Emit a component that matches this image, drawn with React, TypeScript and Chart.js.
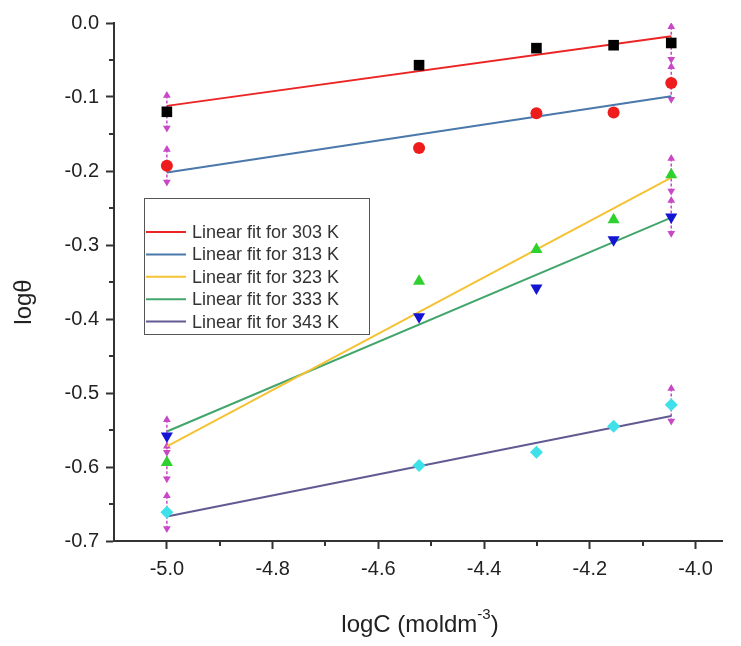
import React, { useEffect, useRef } from "react";
import { Chart, registerables } from "chart.js";

Chart.register(...registerables);

// ---- data ----
const logC = [-5.0, -4.523, -4.301, -4.155, -4.046];
const temps = ["303 K", "313 K", "323 K", "333 K", "343 K"];
const theta303 = [-0.120, -0.057, -0.034, -0.030, -0.027];
const theta313 = [-0.193, -0.169, -0.122, -0.121, -0.081];
const theta323 = [-0.594, -0.349, -0.306, -0.266, -0.205];
const theta333 = [-0.558, -0.397, -0.358, -0.293, -0.262];
const theta343 = [-0.661, -0.598, -0.580, -0.545, -0.516];
const fitX = [-5.0, -4.046];
const fitStart = [-0.112, -0.202, -0.572, -0.552, -0.667];
const fitEnd = [-0.018, -0.099, -0.209, -0.263, -0.531];
const xTicks = [-5.0, -4.8, -4.6, -4.4, -4.2, -4.0];
const yTicks = [0.0, -0.1, -0.2, -0.3, -0.4, -0.5, -0.6, -0.7];
const xMinor = [-4.9, -4.7, -4.5, -4.3, -4.1];
const yMinor = [-0.05, -0.15, -0.25, -0.35, -0.45, -0.55, -0.65];
const arrowIdx = [0, 4];

// ---- styles ----
const series = [theta303, theta313, theta323, theta333, theta343];
const markerColors = ["#000000", "#ee1c1c", "#2fd12f", "#1414d4", "#3ee0ea"];
const markerStyles = ["rect", "circle", "triangle", "triangle", "rectRot"];
const markerRot = [0, 0, 0, 180, 0];
const markerRadius = [7.5, 6, 7, 7, 6.5];
const fitColors = ["#ec2424", "#4a78aa", "#f4c232", "#42a66c", "#625a92"];
const ARROW = "#c848c8";
const ARROW_HALF = 0.022;
const AXIS = "#333333";
const FONT = "'Liberation Sans', Arial, sans-serif";

const decor = {
  id: "decor",
  afterDraw(chart: any) {
    const { ctx, chartArea } = chart;
    const x = chart.scales.x;
    const y = chart.scales.y;
    ctx.save();
    // minor ticks
    ctx.strokeStyle = AXIS;
    ctx.lineWidth = 2;
    xMinor.forEach((v) => {
      const px = Math.round(x.getPixelForValue(v));
      ctx.beginPath();
      ctx.moveTo(px, chartArea.bottom);
      ctx.lineTo(px, chartArea.bottom + 5);
      ctx.stroke();
    });
    yMinor.forEach((v) => {
      const py = Math.round(y.getPixelForValue(v));
      ctx.beginPath();
      ctx.moveTo(chartArea.left, py);
      ctx.lineTo(chartArea.left - 5, py);
      ctx.stroke();
    });

    // legend
    const lx = 144.5, ly = 198.5, lw = 225, lh = 136;
    ctx.fillStyle = "#ffffff";
    ctx.fillRect(lx, ly, lw, lh);
    ctx.strokeStyle = "#555555";
    ctx.lineWidth = 1;
    ctx.strokeRect(lx, ly, lw, lh);
    ctx.font = `18px ${FONT}`;
    ctx.textBaseline = "middle";
    ctx.textAlign = "left";
    temps.forEach((t, i) => {
      const cy = 232 + i * 22.4;
      ctx.strokeStyle = fitColors[i];
      ctx.lineWidth = 2;
      ctx.beginPath();
      ctx.moveTo(146, cy);
      ctx.lineTo(186, cy);
      ctx.stroke();
      ctx.fillStyle = "#333333";
      ctx.fillText(`Linear fit for ${t}`, 192, cy + 1);
    });

    // x title with superscript
    const main = "logC (moldm";
    const sup = "-3";
    const close = ")";
    ctx.fillStyle = "#222222";
    ctx.font = `24px ${FONT}`;
    const wMain = ctx.measureText(main).width;
    const wClose = ctx.measureText(close).width;
    ctx.font = `15px ${FONT}`;
    const wSup = ctx.measureText(sup).width;
    const total = wMain + wSup + wClose;
    const cx = (chartArea.left + chartArea.right) / 2 + 2;
    const ty = 625;
    let sx = cx - total / 2;
    ctx.textAlign = "left";
    ctx.textBaseline = "middle";
    ctx.font = `24px ${FONT}`;
    ctx.fillText(main, sx, ty);
    sx += wMain;
    ctx.font = `15px ${FONT}`;
    ctx.fillText(sup, sx, ty - 10);
    sx += wSup;
    ctx.font = `24px ${FONT}`;
    ctx.fillText(close, sx, ty);

    // y title
    ctx.save();
    ctx.translate(24, 302);
    ctx.rotate(-Math.PI / 2);
    ctx.textAlign = "center";
    ctx.textBaseline = "middle";
    ctx.font = `24px ${FONT}`;
    ctx.fillText("logθ", 0, 0);
    ctx.restore();

    ctx.restore();
  },
};

export default function App() {
  const ref = useRef<HTMLCanvasElement | null>(null);

  useEffect(() => {
    if (!ref.current) return;
    const datasets: any[] = [];

    series.forEach((vals, i) => {
      datasets.push({
        label: temps[i],
        data: logC.map((xv, j) => ({ x: xv, y: vals[j] })),
        showLine: false,
        pointStyle: markerStyles[i],
        pointRotation: markerRot[i],
        pointRadius: markerRadius[i],
        backgroundColor: markerColors[i],
        borderColor: markerColors[i],
        borderWidth: 0,
        order: 0,
      });
    });

    fitStart.forEach((s, i) => {
      datasets.push({
        label: `Linear fit for ${temps[i]}`,
        data: [
          { x: fitX[0], y: s },
          { x: fitX[1], y: fitEnd[i] },
        ],
        showLine: true,
        pointRadius: 0,
        borderColor: fitColors[i],
        borderWidth: 2,
        order: 1,
      });
    });

    series.forEach((vals, i) => {
      arrowIdx.forEach((j) => {
        datasets.push({
          label: "arrow",
          data: [
            { x: logC[j], y: vals[j] + ARROW_HALF },
            { x: logC[j], y: vals[j] - ARROW_HALF },
          ],
          showLine: true,
          borderColor: ARROW,
          borderWidth: 1.5,
          borderDash: [3, 2],
          pointStyle: "triangle",
          pointRotation: [0, 180],
          pointRadius: 4.5,
          backgroundColor: ARROW,
          pointBorderWidth: 0,
          order: 2,
        });
      });
    });

    const chart = new Chart(ref.current, {
      type: "scatter",
      data: { datasets },
      options: {
        animation: false,
        responsive: false,
        devicePixelRatio: 1,
        events: [],
        layout: { padding: { top: 23, right: 19, left: 0, bottom: 0 } },
        plugins: { legend: { display: false }, tooltip: { enabled: false } },
        scales: {
          x: {
            type: "linear",
            min: -5.1,
            max: -3.95,
            afterBuildTicks: (s: any) => {
              s.ticks = xTicks.map((v) => ({ value: v }));
            },
            afterFit: (s: any) => {
              s.height = 105;
            },
            ticks: {
              callback: (v: any) => Number(v).toFixed(1),
              font: { size: 20, family: FONT },
              color: "#222222",
              padding: 8,
              maxRotation: 0,
            },
            grid: {
              display: true,
              drawOnChartArea: false,
              drawTicks: true,
              tickLength: 8,
              tickColor: AXIS,
              tickWidth: 2,
            },
            border: { display: true, color: AXIS, width: 2 },
          },
          y: {
            type: "linear",
            min: -0.7,
            max: 0.0,
            afterBuildTicks: (s: any) => {
              s.ticks = yTicks.map((v) => ({ value: v }));
            },
            afterFit: (s: any) => {
              s.width = 114;
            },
            ticks: {
              callback: (v: any) => Math.abs(Number(v)).toFixed(1) === "0.0" ? "0.0" : Number(v).toFixed(1),
              font: { size: 20, family: FONT },
              color: "#222222",
              padding: 7,
            },
            grid: {
              display: true,
              drawOnChartArea: false,
              drawTicks: true,
              tickLength: 8,
              tickColor: AXIS,
              tickWidth: 2,
            },
            border: { display: true, color: AXIS, width: 2 },
          },
        },
      },
      plugins: [decor],
    });
    return () => chart.destroy();
  }, []);

  return (
    <div style={{ position: "absolute", left: 0, top: 0, width: 741, height: 646, background: "#fff" }}>
      <canvas ref={ref} width={741} height={646} style={{ display: "block" }} />
    </div>
  );
}
